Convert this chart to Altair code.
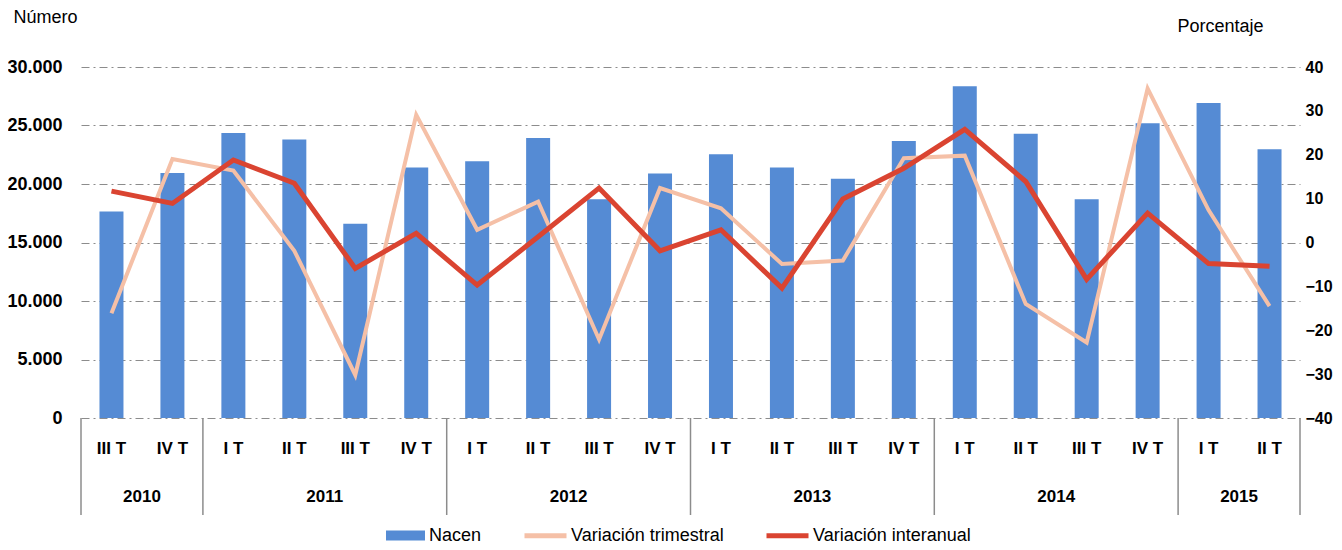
import altair as alt
import pandas as pd

quarters = ["III T", "IV T", "I T", "II T", "III T", "IV T", "I T", "II T", "III T", "IV T",
            "I T", "II T", "III T", "IV T", "I T", "II T", "III T", "IV T", "I T", "II T"]
years = ["2010", "2010", "2011", "2011", "2011", "2011", "2012", "2012", "2012", "2012",
         "2013", "2013", "2013", "2013", "2014", "2014", "2014", "2014", "2015", "2015"]
nacen = [17650, 20950, 24350, 23800, 16600, 21400, 21940, 23930, 18690, 20900,
         22540, 21400, 20450, 23680, 28350, 24300, 18700, 25190, 26920, 22960]
var_trim = [-16.1, 19.0, 16.4, -1.9, -30.2, 29.1, 2.9, 9.3, -22.1, 12.4,
            7.8, -4.9, -4.1, 19.2, 19.8, -14.0, -22.8, 35.1, 7.4, -14.5]
var_inter = [11.7, 8.9, 18.8, 13.5, -5.9, 2.1, -9.7, 1.3, 12.4, -1.9,
             2.9, -10.4, 9.9, 16.9, 25.8, 13.9, -8.4, 6.7, -4.8, -5.4]
bar_series = ["Nacen"]
bar_colors = ["#558BD4"]
line_series = ["Variación trimestral", "Variación interanual"]
line_colors = ["#F5C0A7", "#DA4431"]

W, H = 1219, 351
FONT = "Liberation Sans, Arial, sans-serif"

df = pd.DataFrame({
    "pos": [i + 0.5 for i in range(len(quarters))],
    "quarter": quarters,
    "year": years,
    "nacen": nacen,
    "trim": var_trim,
    "inter": var_inter,
})
df["s_nacen"] = bar_series[0]
df["s_trim"] = line_series[0]
df["s_inter"] = line_series[1]

# year groups
yr_rows = []
for y in dict.fromkeys(years):
    idx = [i for i, v in enumerate(years) if v == y]
    yr_rows.append({"year": y, "start": idx[0], "end": idx[-1] + 1,
                    "mid": (idx[0] + idx[-1] + 1) / 2})
ydf = pd.DataFrame(yr_rows)
sep = pd.DataFrame({"pos": list(ydf["start"]) + [ydf["end"].iloc[-1]]})

xscale = alt.Scale(domain=[0, len(quarters)], nice=False, zero=False, padding=0)
fscale = alt.Scale(domain=bar_series, range=bar_colors)
sscale = alt.Scale(domain=line_series, range=line_colors)

fill_legend = alt.Legend(
    title=None, orient="none", legendX=305, legendY=449, direction="horizontal",
    padding=0, labelFont=FONT, labelFontSize=18, labelColor="#000000",
    symbolType="M-1,-0.26H1V0.26H-1Z", symbolSize=1521, symbolStrokeWidth=0,
    symbolOpacity=1, labelOffset=4,
)
stroke_legend = alt.Legend(
    title=None, orient="none", legendX=441, legendY=445, direction="horizontal",
    padding=0, labelFont=FONT, labelFontSize=18, labelColor="#000000",
    symbolType="stroke", symbolSize=1764, symbolStrokeWidth=5,
    symbolOpacity=1, labelOffset=2, columnPadding=32,
)

bars = alt.Chart(df).mark_bar(size=24).encode(
    x=alt.X("pos:Q", scale=xscale,
            axis=alt.Axis(values=list(range(len(quarters) + 1)), labels=False, ticks=True,
                          tickSize=49, tickColor="#8c8c8c", tickWidth=1.5,
                          domain=True, domainColor="#8c8c8c", domainWidth=2,
                          grid=False, title=None)),
    y=alt.Y("nacen:Q", scale=alt.Scale(domain=[0, 30000], nice=False),
            axis=alt.Axis(values=[0, 5000, 10000, 15000, 20000, 25000, 30000],
                          labelExpr="replace(format(datum.value, ','), ',', '.')",
                          grid=True, gridDash=[8, 4, 2, 4], gridColor="#8c8c8c", gridWidth=1,
                          domain=False, ticks=False, labelPadding=19,
                          labelFont=FONT, labelFontSize=18, labelFontWeight="bold",
                          labelColor="#000000",
                          title="Número", titleAngle=0, titleX=-68, titleY=-45,
                          titleAlign="left", titleBaseline="alphabetic",
                          titleFont=FONT, titleFontSize=18,
                          titleFontWeight="normal", titleColor="#000000")),
    fill=alt.Fill("s_nacen:N", scale=fscale, legend=fill_legend),
)

pink = alt.Chart(df).mark_line(strokeWidth=4, strokeJoin="miter").encode(
    x=alt.X("pos:Q", scale=xscale, axis=None),
    y=alt.Y("trim:Q", scale=alt.Scale(domain=[-40, 40], nice=False),
            axis=alt.Axis(orient="right", values=[-40, -30, -20, -10, 0, 10, 20, 30, 40],
                          grid=False, domain=False, ticks=False, labelPadding=5,
                          labelFont=FONT, labelFontSize=16, labelFontWeight="bold",
                          labelColor="#000000",
                          title="Porcentaje", titleAngle=0, titleX=-123, titleY=-36,
                          titleAlign="left", titleBaseline="alphabetic",
                          titleFont=FONT, titleFontSize=18,
                          titleFontWeight="normal", titleColor="#000000")),
    stroke=alt.Stroke("s_trim:N", scale=sscale, legend=stroke_legend),
)

red = alt.Chart(df).mark_line(strokeWidth=5, strokeJoin="miter").encode(
    x=alt.X("pos:Q", scale=xscale, axis=None),
    y=alt.Y("inter:Q"),
    stroke=alt.Stroke("s_inter:N", scale=sscale, legend=stroke_legend),
)

year_rules = alt.Chart(sep).mark_rule(color="#8c8c8c", strokeWidth=1.5).encode(
    x=alt.X("pos:Q", scale=xscale, axis=None),
    y=alt.value(H), y2=alt.value(H + 97),
)

q_text = alt.Chart(df).mark_text(font=FONT, fontSize=17, fontWeight="bold",
                                 color="#000000", baseline="middle").encode(
    x=alt.X("pos:Q", scale=xscale, axis=None),
    y=alt.value(H + 31),
    text="quarter:N",
)

y_text = alt.Chart(ydf).mark_text(font=FONT, fontSize=17, fontWeight="bold",
                                  color="#000000", baseline="middle").encode(
    x=alt.X("mid:Q", scale=xscale, axis=None),
    y=alt.value(H + 79),
    text="year:N",
)

chart = alt.layer(
    bars, year_rules, q_text, y_text, alt.layer(pink, red)
).resolve_scale(y="independent").properties(
    width=W, height=H,
    autosize=alt.AutoSizeParams(type="none"),
    padding={"left": 73, "top": 59, "right": 34, "bottom": 124},
    background="white",
).configure_view(stroke=None)

chart.save("out.html", embed_options={"renderer": "svg", "actions": False})
